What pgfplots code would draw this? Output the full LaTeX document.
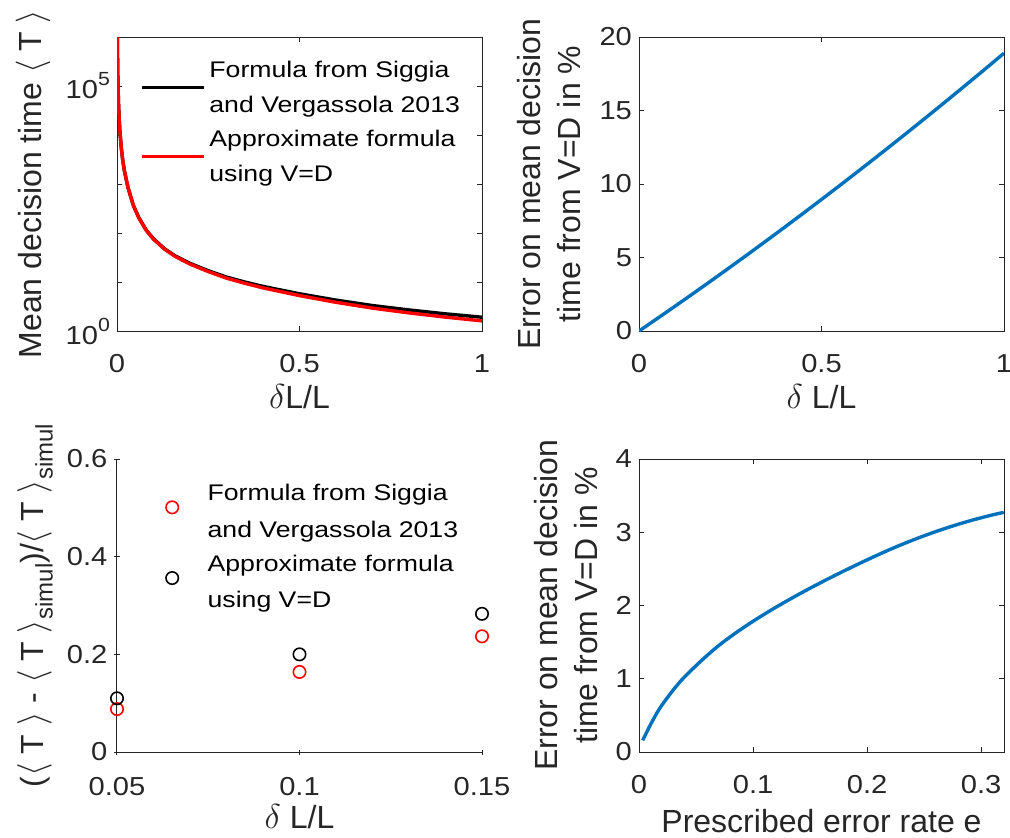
\documentclass[border=0pt]{standalone}
\usepackage{fontspec}
\setmainfont{Liberation Sans}
\newfontfamily\tickfont{Liberation Sans}[FakeStretch=1.12]
\newfontfamily\legfont{Liberation Sans}[FakeStretch=1.18]
\usepackage{pgfplots}
\pgfplotsset{compat=1.18}
\definecolor{axgray}{rgb}{0.15,0.15,0.15}
\definecolor{mblue}{rgb}{0,0.447,0.741}
\newcommand\sub[1]{\raisebox{-0.3em}{\fontsize{12}{12}\selectfont #1}}
\newcommand\supp[1]{\raisebox{0.5em}{\fontsize{9.5}{10}\selectfont #1}}

\pgfplotsset{
  yl/.style={every axis y label/.style={at={(axis description cs:#1,0.5)}, rotate=90, anchor=center,
      font=\fontsize{16}{20}\selectfont, text=axgray, align=center}},
  xl/.style={every axis x label/.style={at={(axis description cs:0.5,#1)}, anchor=base,
      font=\fontsize{16}{20}\selectfont, text=axgray}},
  mat/.style={
    width=182.5pt, height=147pt, scale only axis, enlargelimits=false,
    axis line style={draw=axgray, line width=0.5pt},
    every tick/.style={draw=axgray, line width=0.5pt},
    major tick length=2.5pt, minor tick length=0pt,
    tick align=inside,
    tick label style={font=\tickfont\fontsize{13}{15}\selectfont, text=axgray},
    xticklabel style={anchor=base, yshift=-20.5pt},
    xl=-0.262,
    legend style={draw=none, fill=none, font=\legfont\fontsize{11.3}{17.5}\selectfont, text=black,
      nodes={inner sep=0pt, text height=12.25pt, text depth=5.25pt}, row sep=-0.5pt, column sep=1.8pt,
      inner sep=0pt, anchor=north west},
    legend cell align=left,
    legend image code/.code={\draw[#1] (0pt,-8.5pt) -- (31pt,-8.5pt);},
  }
}

\begin{document}
\begin{tikzpicture}
\useasboundingbox (0,0) rectangle (505pt,-418.5pt);

% ---------------- Panel 1 ----------------
\begin{axis}[mat,
  at={(58.5pt,-165.5pt)}, anchor=south west,
  xmin=0, xmax=1, ymode=log, ymin=1, ymax=1e6,
  xtick={0,0.5,1}, xticklabels={0,0.5,1},
  ytick={1,10,100,1000,10000,100000,1000000},
  yticklabels={10\supp{0},{},{},{},{},10\supp{5},{}},
  xlabel={$\delta$L/L},
  yl=-0.230,
  ylabel={Mean decision time $\langle$ T $\rangle$},
  legend style={at={(axis description cs:0.063,0.947)}},
]
\addplot[black, line width=1.7pt, line join=round] coordinates {
(0.0008,1.2e6) (0.001,7.4e5) (0.002,1.86e5) (0.004,4.68e4) (0.006,2.09e4) (0.008,1.17e4)
(0.012,5250) (0.016,2950) (0.02,1905) (0.03,851) (0.045,363) (0.06,204) (0.08,115)
(0.1,75.9) (0.13,47.9) (0.16,33.9) (0.2,24.0) (0.25,17.0) (0.3,12.6) (0.35,10.0)
(0.4,8.13) (0.5,5.75) (0.6,4.27) (0.7,3.31) (0.8,2.69) (0.9,2.24) (1.0,1.91)};
\addlegendentry{Formula from Siggia}
\addlegendimage{empty legend}
\addlegendentry{and Vergassola 2013}
\addplot[red, line width=1.7pt, line join=round] coordinates {
(0.0008,1.2e6) (0.001,7.4e5) (0.002,1.86e5) (0.004,4.68e4) (0.006,2.09e4) (0.008,1.17e4)
(0.012,5250) (0.016,2950) (0.02,1905) (0.03,851) (0.045,361) (0.06,202) (0.08,113.5)
(0.1,74.7) (0.13,46.9) (0.16,33.0) (0.2,23.2) (0.25,16.3) (0.3,11.97) (0.35,9.42)
(0.4,7.59) (0.5,5.28) (0.6,3.85) (0.7,2.93) (0.8,2.34) (0.9,1.92) (1.0,1.61)};
\addlegendentry{Approximate formula}
\addlegendimage{empty legend}
\addlegendentry{using V=D}
\end{axis}

% ---------------- Panel 2 ----------------
\begin{axis}[mat,
  at={(319.5pt,-165.5pt)}, anchor=south west,
  xmin=0, xmax=1, ymin=0, ymax=20,
  xtick={0,0.5,1}, xticklabels={0,0.5,1},
  ytick={0,5,10,15,20}, yticklabels={0,5,10,15,20},
  xlabel={$\delta$ L/L},
  yl=-0.2466,
  ylabel={Error on mean decision\\time from V=D in \%},
]
\addplot[mblue, line width=1.7pt, line join=round] coordinates {
(0,0) (0.05,0.85) (0.1,1.71) (0.15,2.58) (0.2,3.46) (0.25,4.35) (0.3,5.25) (0.35,6.16)
(0.4,7.08) (0.45,8.01) (0.5,8.95) (0.55,9.90) (0.6,10.86) (0.65,11.83) (0.7,12.81) (0.75,13.80)
(0.8,14.80) (0.85,15.81) (0.9,16.83) (0.95,17.86) (1.0,18.9)};
\end{axis}

% ---------------- Panel 3 ----------------
\begin{axis}[mat,
  at={(58.5pt,-376pt)}, anchor=south west, height=146.5pt,
  axis lines=left, axis line style={-}, clip=false,
  xmin=0.05, xmax=0.15, ymin=0, ymax=0.6,
  xtick={0.05,0.1,0.15}, xticklabels={0.05,0.1,0.15},
  ytick={0,0.2,0.4,0.6}, yticklabels={0,0.2,0.4,0.6},
  xlabel={$\delta$ L/L},
  yl=-0.2247,
  ylabel={($\langle$ T $\rangle$ - $\langle$ T $\rangle$\sub{simul})/$\langle$ T $\rangle$\sub{simul}},
  legend style={at={(axis description cs:0.063,0.944)}},
  legend image code/.code={\path (0pt,-7pt) (31pt,-7pt); \draw[#1] plot coordinates {(15.5pt,-7pt)};},
]
\addplot[only marks, red, mark=o, mark size=3.1pt, line width=0.8pt] coordinates {
(0.05,0.088) (0.1,0.164) (0.15,0.237)};
\addlegendentry{Formula from Siggia}
\addlegendimage{empty legend}
\addlegendentry{and Vergassola 2013}
\addplot[only marks, black, mark=o, mark size=3.1pt, line width=0.8pt] coordinates {
(0.05,0.110) (0.1,0.200) (0.15,0.283)};
\addlegendentry{Approximate formula}
\addlegendimage{empty legend}
\addlegendentry{using V=D}
\end{axis}

% ---------------- Panel 4 ----------------
\begin{axis}[mat,
  at={(319.5pt,-376pt)}, anchor=south west, height=146.5pt,
  xmin=0, xmax=0.32, ymin=0, ymax=4,
  xtick={0,0.1,0.2,0.3}, xticklabels={0,0.1,0.2,0.3},
  ytick={0,1,2,3,4}, yticklabels={0,1,2,3,4},
  xl=-0.276,
  xlabel={Prescribed error rate e},
  yl=-0.2,
  ylabel={Error on mean decision\\time from V=D in \%},
]
\addplot[mblue, line width=1.7pt, line join=round, smooth] coordinates {
(0.0032,0.16) (0.006,0.247) (0.0105,0.387) (0.0175,0.58) (0.0252,0.75) (0.0325,0.895)
(0.0398,1.023) (0.0545,1.245) (0.0692,1.445) (0.0838,1.615) (0.1,1.785) (0.115,1.93)
(0.13,2.066) (0.145,2.195) (0.16,2.318) (0.175,2.436) (0.19,2.55) (0.205,2.66)
(0.22,2.765) (0.235,2.8625) (0.25,2.9525) (0.265,3.035) (0.28,3.11) (0.295,3.1775)
(0.31,3.2375) (0.3198,3.272)};
\end{axis}
\end{tikzpicture}
\end{document}
